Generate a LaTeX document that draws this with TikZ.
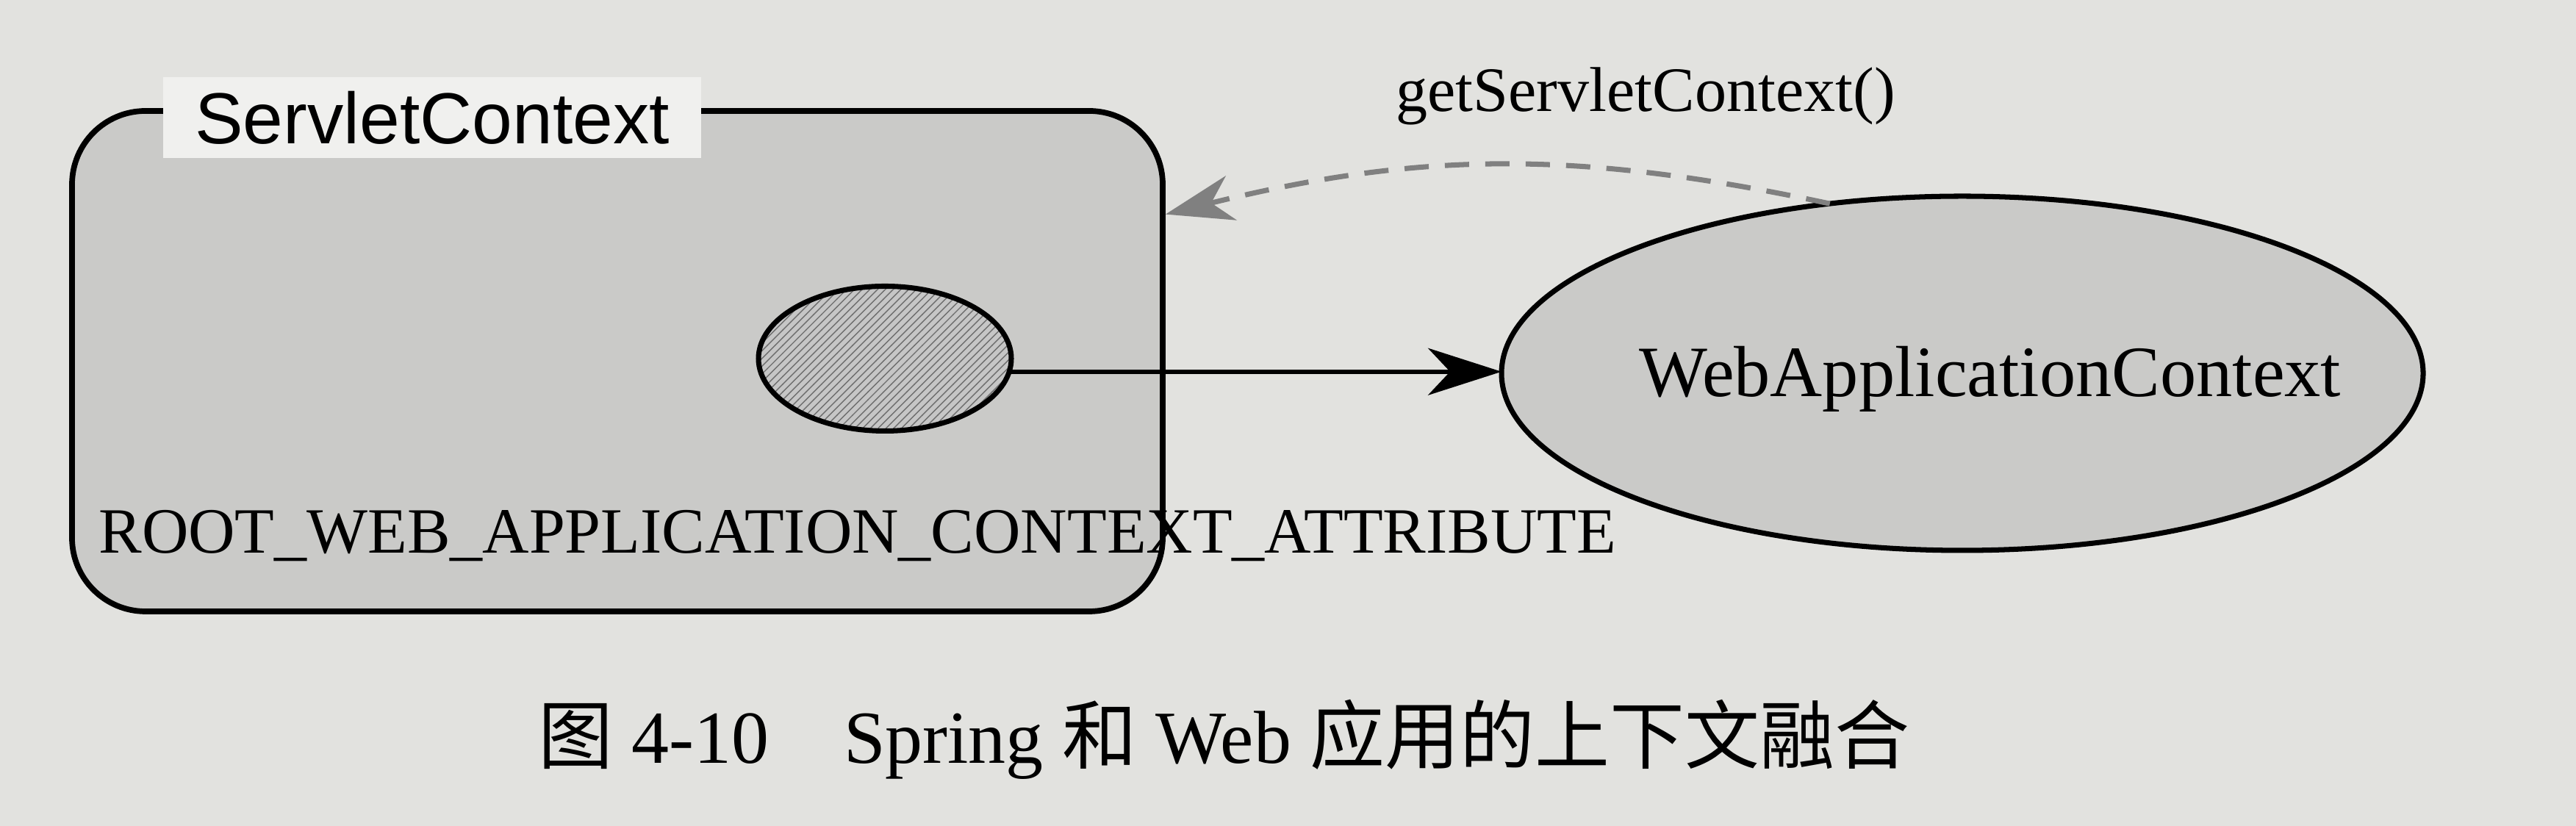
\documentclass[tikz,border=0pt]{standalone}
\usepackage{fontspec}
\setmainfont{Liberation Serif}
\newfontfamily\labelsans{Liberation Sans}
\newfontfamily\cjkfont{Noto Sans CJK SC}
\usetikzlibrary{shapes.geometric,arrows.meta,patterns}

\definecolor{paper}{RGB}{226,226,223}
\definecolor{titlebg}{RGB}{240,240,238}
\definecolor{boxgray}{RGB}{202,202,200}
\definecolor{hatchgray}{RGB}{110,110,110}

\begin{document}
\begin{tikzpicture}[x=1cm,y=1cm,
		ctxbox/.style={draw,line width=2.2pt,rounded corners=1cm,fill=boxgray,
			minimum width=14.84cm,minimum height=6.81cm},
		ctxellipse/.style={ellipse,draw,line width=2pt,inner sep=0pt,outer sep=0pt},
		bigtext/.style={font=\fontsize{#1}{#1}\selectfont}]
		\useasboundingbox (0,0) rectangle (35.05,11.24);
		\fill[paper] (0,0) rectangle (35.05,11.24);

		% ServletContext with its attribute
		\node[ctxbox] (servlet) at (8.40,6.325) {};
		\node[fill=titlebg,minimum width=7.32cm,minimum height=1.1cm,
			font=\labelsans\fontsize{28}{28}\selectfont] (servlettitle) at (5.88,9.64) {ServletContext};
		\node[ctxellipse,minimum width=3.44cm,minimum height=1.97cm,
			preaction={fill=gray!45},pattern=north east lines,pattern color=hatchgray] (attr) at (12.04,6.36) {};
		\node[bigtext=25,anchor=base west] (attrname) at (1.22,3.71)
			{ROOT\_WEB\_APPLICATION\_CONTEXT\_ATTRIBUTE};

		% WebApplicationContext
		\node[ctxellipse,minimum width=12.54cm,minimum height=4.82cm,fill=boxgray] (webctx) at (26.70,6.16) {};
		\node[bigtext=28,anchor=base] (webname) at (27.08,5.84) {WebApplicationContext};

		% Connectors
		\draw[line width=1.7pt,-{Stealth[length=1cm,width=0.64cm,inset=0.3cm]}]
			(attr.-6.6) -- (attr.-6.6 -| webctx.west);
		\draw[gray,line width=2pt,dash pattern=on 0.33cm off 0.22cm,
			-{Stealth[length=0.92cm,width=0.62cm,inset=0.28cm]}]
			(webctx.128) to[bend right=13] (servlet.15);
		\node[bigtext=24.5,anchor=base] (getlabel) at (22.39,9.72) {getServletContext()};

		% Caption
		\node[bigtext=29,anchor=base] (caption) at (16.65,0.85)
			{{\cjkfont 图} 4-10\quad Spring {\cjkfont 和} Web {\cjkfont 应用的上下文融合}};
	\end{tikzpicture}
\end{document}
